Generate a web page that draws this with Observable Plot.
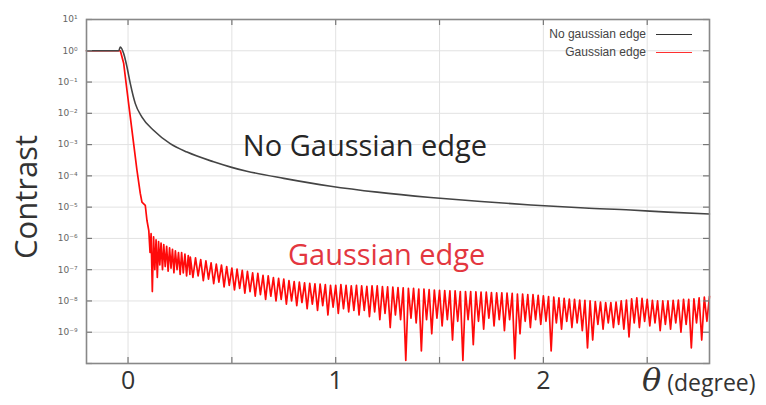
<!DOCTYPE html>
<html><head><meta charset="utf-8">
<script src="https://cdn.jsdelivr.net/npm/d3@7"></script>
<script src="https://cdn.jsdelivr.net/npm/@observablehq/plot@0.6"></script>
<style>
body{margin:0;background:#fff;}
#wrap{position:relative;width:766px;height:405px;font-family:"Open Sans",sans-serif;overflow:hidden;}
.legtxt{position:absolute;right:120px;font-family:"Liberation Sans",Arial,sans-serif;font-size:12px;color:#444;line-height:14px;white-space:nowrap;}
.legline{position:absolute;left:656px;width:36px;height:0;}
#xlab{position:absolute;left:642px;top:361px;white-space:nowrap;color:#333;}
#ylab{position:absolute;left:25px;top:197px;transform:translate(-50%,-50%) rotate(-90deg);font-size:31px;color:#333;white-space:nowrap;line-height:1;}
</style></head><body><div id="wrap"></div>
<script>
// Theta (degree) and log10(contrast)
const noGaussianEdge = [
  [-0.2,0],[-0.045,0],[-0.037,0.12],[-0.021,-0.09],[-0.005,-0.52],[0.011,-1.05],[0.035,-1.69],
  [0.067,-2.12],[0.124,-2.55],[0.203,-2.97],[0.284,-3.24],[0.412,-3.55],[0.495,-3.72],[0.572,-3.85],
  [0.75,-4.08],[0.976,-4.33],[1.2,-4.52],[1.457,-4.69],[1.7,-4.82],[1.94,-4.93],[2.2,-5.03],
  [2.42,-5.09],[2.6,-5.16],[2.8,-5.22]
];
const gaussianEdge = [
  [-0.2,0],[-0.045,0],[-0.037,0],[-0.021,-0.4],[-0.005,-1.27],[0.011,-2.12],[0.027,-2.97],[0.043,-3.82],
  [0.059,-4.56],[0.067,-4.84],[0.083,-4.94],[0.091,-5.42],
  [0.100,-5.75],[0.106,-6.45],[0.111,-5.85],[0.117,-7.7],[0.123,-5.95],[0.129,-7.0],[0.135,-6.05],[0.141,-7.25],
  [0.147,-6.1],[0.153,-6.85],[0.159,-6.15],[0.166,-7.0],[0.172,-6.2],[0.179,-6.9],[0.186,-6.25],[0.193,-7.05],
  [0.200,-6.3],[0.207,-6.95],[0.214,-6.35],[0.221,-7.1],[0.228,-6.4],[0.236,-7.0],[0.243,-6.45],[0.251,-7.15],
  [0.258,-6.45],[0.266,-7.1],[0.274,-6.5],[0.282,-7.2],[0.290,-6.55],[0.298,-7.15],
  [0.3000,-6.60],[0.3125,-7.25],[0.3250,-6.62],[0.3375,-7.20],[0.3500,-6.68],[0.3625,-7.35],[0.3750,-6.72],[0.3875,-7.30],
  [0.4000,-6.78],[0.4125,-7.45],[0.4250,-6.82],[0.4375,-7.40],[0.4500,-6.85],[0.4625,-7.55],[0.4750,-6.90],[0.4875,-7.50],
  [0.5000,-6.95],[0.5125,-7.65],[0.5250,-6.98],[0.5375,-7.60],[0.5500,-7.02],[0.5625,-7.75],[0.5750,-7.05],[0.5875,-7.70],
  [0.6000,-7.10],[0.6125,-7.85],[0.6250,-7.12],[0.6375,-7.80],[0.6500,-7.18],[0.6625,-7.95],[0.6750,-7.20],[0.6875,-7.85],
  [0.7000,-7.25],[0.7125,-8.00],[0.7250,-7.28],[0.7375,-7.95],[0.7500,-7.30],[0.7625,-8.10],[0.7750,-7.35],[0.7875,-8.00],
  [0.8000,-7.38],[0.8125,-8.15],[0.8250,-7.40],[0.8375,-8.05],[0.8500,-7.42],[0.8625,-8.25],[0.8750,-7.44],[0.8875,-8.10],
  [0.9000,-7.45],[0.9125,-8.30],[0.9250,-7.46],[0.9375,-8.15],[0.9500,-7.48],[0.9625,-8.45],[0.9750,-7.50],[0.9875,-8.20],
  [1.0000,-7.50],[1.0125,-8.40],[1.0250,-7.48],[1.0375,-8.25],[1.0500,-7.50],[1.0625,-8.35],[1.0750,-7.52],[1.0875,-8.30],
  [1.1000,-7.50],[1.1125,-8.45],[1.1250,-7.52],[1.1375,-8.30],[1.1500,-7.53],[1.1625,-8.50],[1.1750,-7.52],[1.1875,-8.35],
  [1.2000,-7.52],[1.2125,-8.60],[1.2250,-7.54],[1.2375,-8.40],[1.2500,-7.55],[1.2625,-8.85],[1.2750,-7.56],[1.2875,-8.45],
  [1.3000,-7.57],[1.3125,-8.60],[1.3250,-7.58],[1.3375,-9.90],[1.3500,-7.60],[1.3625,-8.55],[1.3750,-7.60],[1.3875,-8.70],
  [1.4000,-7.62],[1.4125,-9.60],[1.4250,-7.62],[1.4375,-8.60],[1.4500,-7.64],[1.4625,-9.05],[1.4750,-7.65],[1.4875,-8.55],
  [1.5000,-7.66],[1.5125,-8.80],[1.5250,-7.67],[1.5375,-8.60],[1.5500,-7.68],[1.5625,-9.25],[1.5750,-7.68],[1.5875,-8.65],
  [1.6000,-7.70],[1.6125,-9.90],[1.6250,-7.70],[1.6375,-8.60],[1.6500,-7.70],[1.6625,-9.40],[1.6750,-7.71],[1.6875,-8.65],
  [1.7000,-7.72],[1.7125,-8.90],[1.7250,-7.72],[1.7375,-8.55],[1.7500,-7.73],[1.7625,-8.80],[1.7750,-7.74],[1.7875,-8.60],
  [1.8000,-7.74],[1.8125,-8.95],[1.8250,-7.75],[1.8375,-8.60],[1.8500,-7.76],[1.8625,-9.85],[1.8750,-7.78],[1.8875,-9.05],
  [1.9000,-7.78],[1.9125,-8.65],[1.9250,-7.80],[1.9375,-8.85],[1.9500,-7.80],[1.9625,-8.60],[1.9750,-7.82],[1.9875,-8.75],
  [2.0000,-7.84],[2.0125,-8.65],[2.0250,-7.86],[2.0375,-9.60],[2.0500,-7.88],[2.0625,-8.70],[2.0750,-7.90],[2.0875,-8.90],
  [2.1000,-7.92],[2.1125,-8.65],[2.1250,-7.94],[2.1375,-8.85],[2.1500,-7.95],[2.1625,-8.70],[2.1750,-7.97],[2.1875,-8.95],
  [2.2000,-7.98],[2.2125,-9.50],[2.2250,-8.00],[2.2375,-9.25],[2.2500,-8.02],[2.2625,-8.75],[2.2750,-8.04],[2.2875,-8.90],
  [2.3000,-8.05],[2.3125,-8.70],[2.3250,-8.05],[2.3375,-8.85],[2.3500,-8.04],[2.3625,-8.75],[2.3750,-8.00],[2.3875,-8.90],
  [2.4000,-7.97],[2.4125,-9.15],[2.4250,-7.93],[2.4375,-8.70],[2.4500,-7.90],[2.4625,-8.85],[2.4750,-7.92],[2.4875,-8.65],
  [2.5000,-7.95],[2.5125,-8.80],[2.5250,-7.98],[2.5375,-8.70],[2.5500,-8.00],[2.5625,-8.95],[2.5750,-8.00],[2.5875,-8.75],
  [2.6000,-8.00],[2.6125,-8.90],[2.6250,-7.98],[2.6375,-8.70],[2.6500,-7.97],[2.6625,-9.00],[2.6750,-7.95],[2.6875,-8.75],
  [2.7000,-7.95],[2.7125,-9.50],[2.7250,-7.93],[2.7375,-8.70],[2.7500,-7.90],[2.7625,-9.25],[2.7750,-7.88],[2.7875,-8.65],
  [2.8000,-7.85]
];
const yTicks = [1e1,1e0,1e-1,1e-2,1e-3,1e-4,1e-5,1e-6,1e-7,1e-8,1e-9];
const yTickLabels = ["10¹","10⁰","10⁻¹","10⁻²","10⁻³","10⁻⁴","10⁻⁵","10⁻⁶","10⁻⁷","10⁻⁸","10⁻⁹"];
const yTickMarks = [1e1,1e0,1e-1,1e-2,1e-3,1e-4,1e-5,1e-6,1e-7,1e-8,1e-9,1e-10];
const xTicks = [0,1,2];
const xTickLabels = ["0","1","2"];
const xGrid = [0,0.5,1,1.5,2,2.5];
const annotations = [
  {text:"No Gaussian edge", theta:0.553, contrast:8.7e-4, color:"#262626"},
  {text:"Gaussian edge", theta:0.77, contrast:2.7e-7, color:"#e3373f"}
];
const legendItems = [
  {label:"No gaussian edge", color:"#333"},
  {label:"Gaussian edge", color:"#ff3030"}
];

const toRows = arr => arr.map(([theta, lg]) => ({theta, contrast: 10 ** lg}));
const red = toRows(gaussianEdge);
const black = toRows(noGaussianEdge);

const chart = Plot.plot({
  width: 766, height: 405,
  marginLeft: 86, marginRight: 57, marginTop: 19, marginBottom: 42,
  style: {background: "#fff", fontFamily: "Open Sans, sans-serif", overflow: "visible"},
  x: {domain: [-0.2, 2.8]},
  y: {type: "log", domain: [1e-10, 10]},
  marks: [
    Plot.gridX(xGrid, {stroke: "#e2e2e2", strokeOpacity: 1}),
    Plot.gridY(yTicks, {stroke: "#e2e2e2", strokeOpacity: 1}),
    Plot.line(red, {x: "theta", y: "contrast", stroke: "#ff0a0a", strokeWidth: 1.7}),
    Plot.line(black, {x: "theta", y: "contrast", stroke: "#444", strokeWidth: 1.6, curve: "monotone-x"}),
    Plot.tickX(xGrid, {x: d => d, insetTop: 338, stroke: "#777", strokeWidth: 1.2}),
    Plot.tickX(xGrid, {x: d => d, insetBottom: 338, stroke: "#777", strokeWidth: 1.2}),
    Plot.tickY(yTickMarks, {y: d => d, insetRight: 617, stroke: "#777", strokeWidth: 1.2}),
    Plot.tickY(yTickMarks, {y: d => d, insetLeft: 617, stroke: "#777", strokeWidth: 1.2}),
    Plot.frame({stroke: "#888", strokeWidth: 1.6}),
    Plot.axisX(xTicks, {anchor: "bottom", tickSize: 0, tickPadding: 8, fontSize: 25, fill: "#333",
      tickFormat: d => xTickLabels[xTicks.indexOf(d)], label: null}),
    Plot.axisY(yTicks, {anchor: "left", tickSize: 0, tickPadding: 9, fontSize: 9, fill: "#666",
      fontFamily: "DejaVu Sans", tickFormat: d => yTickLabels[yTicks.indexOf(d)], label: null}),
    Plot.text(annotations, {x: "theta", y: "contrast", text: "text", fill: "color", fontSize: 29,
      textAnchor: "start", lineAnchor: "middle"})
  ]
});
const wrap = document.getElementById("wrap");
wrap.appendChild(chart);

legendItems.forEach((item, i) => {
  const t = document.createElement("div");
  t.className = "legtxt";
  t.style.top = (27 + i * 18) + "px";
  t.textContent = item.label;
  wrap.appendChild(t);
  const l = document.createElement("div");
  l.className = "legline";
  l.style.top = (34 + i * 18) + "px";
  l.style.borderTop = "1.3px solid " + item.color;
  wrap.appendChild(l);
});

const yl = document.createElement("div");
yl.id = "ylab";
yl.textContent = "Contrast";
wrap.appendChild(yl);

const xl = document.createElement("div");
xl.id = "xlab";
xl.innerHTML = '<span style="font-family:\'DejaVu Serif\',serif;font-style:italic;font-size:32px">θ</span><span style="font-size:23px"> (degree)</span>';
wrap.appendChild(xl);
</script>
</body></html>
